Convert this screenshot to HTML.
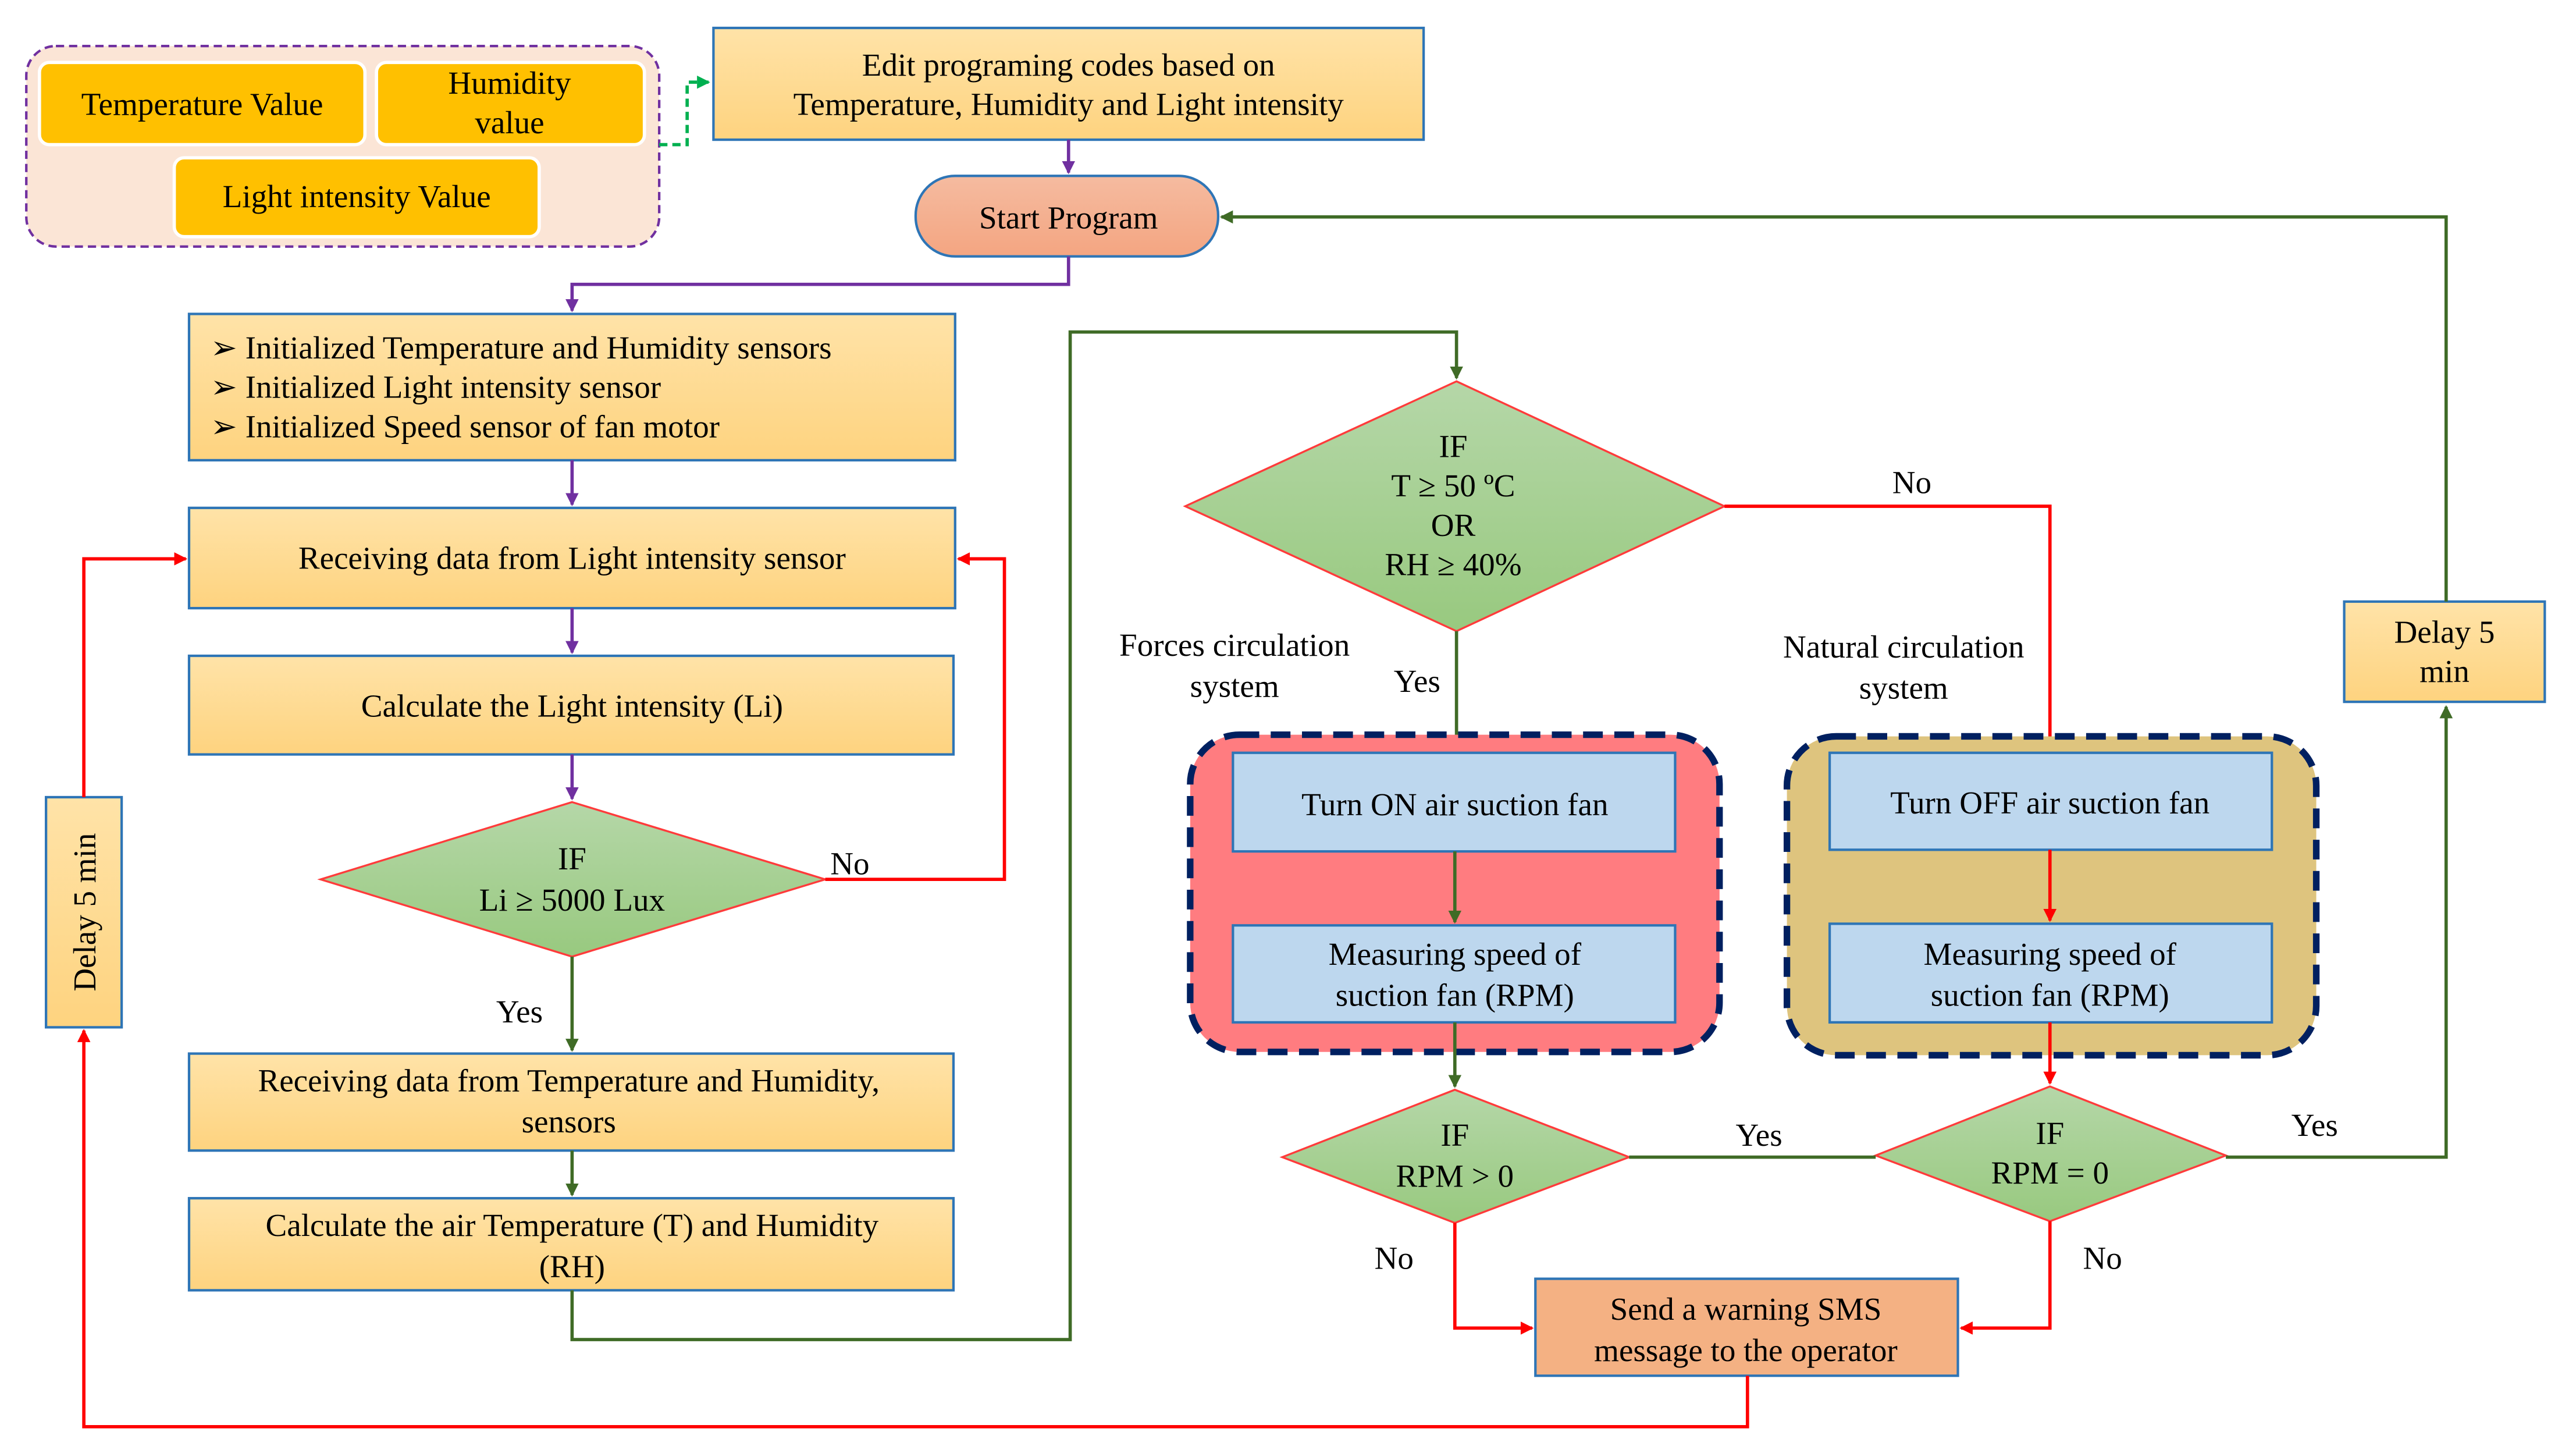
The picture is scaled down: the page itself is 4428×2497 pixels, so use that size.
<!DOCTYPE html>
<html><head><meta charset="utf-8"><style>html,body{margin:0;padding:0;background:#fff}svg{display:block}svg text{font-family:"Liberation Serif",serif}</style></head>
<body>
<svg width="4428" height="2497" viewBox="0 0 1567 884" preserveAspectRatio="none" xmlns="http://www.w3.org/2000/svg" font-family="Liberation Serif, serif" font-size="19.5" text-anchor="middle">
<defs>
<linearGradient id="yg" x1="0" y1="0" x2="0" y2="1"><stop offset="0" stop-color="#ffe3a8"/><stop offset="1" stop-color="#fed37f"/></linearGradient>
<linearGradient id="gg" x1="0" y1="0" x2="0" y2="1"><stop offset="0" stop-color="#b5d7a8"/><stop offset="1" stop-color="#98c97f"/></linearGradient>
<linearGradient id="og" x1="0" y1="0" x2="0" y2="1"><stop offset="0" stop-color="#f5bba0"/><stop offset="1" stop-color="#f4a581"/></linearGradient>
<marker id="ap" markerWidth="8" markerHeight="8" refX="7" refY="4" orient="auto" markerUnits="userSpaceOnUse"><path d="M0,0 L8,4 L0,8 Z" fill="#7030a0"/></marker>
<marker id="ag" markerWidth="8" markerHeight="8" refX="7" refY="4" orient="auto" markerUnits="userSpaceOnUse"><path d="M0,0 L8,4 L0,8 Z" fill="#3f6b26"/></marker>
<marker id="ar" markerWidth="8" markerHeight="8" refX="7" refY="4" orient="auto" markerUnits="userSpaceOnUse"><path d="M0,0 L8,4 L0,8 Z" fill="#ff0000"/></marker>
<marker id="al" markerWidth="8" markerHeight="8" refX="7" refY="4" orient="auto" markerUnits="userSpaceOnUse"><path d="M0,0 L8,4 L0,8 Z" fill="#00b050"/></marker>
</defs>

<rect x="16" y="28" width="385" height="122" rx="18" fill="#fbe5d6" stroke="#7030a0" stroke-width="1.5" stroke-dasharray="5,3"/>
<rect x="24" y="38" width="198" height="50" rx="6" fill="#ffc000" stroke="#fff" stroke-width="2"/>
<rect x="229" y="38" width="163" height="50" rx="6" fill="#ffc000" stroke="#fff" stroke-width="2"/>
<rect x="106" y="96" width="222" height="48" rx="6" fill="#ffc000" stroke="#fff" stroke-width="2"/>
<text x="123" y="70">Temperature Value</text>
<text x="310" y="57">Humidity</text><text x="310" y="81">value</text>
<text x="217" y="126">Light intensity Value</text>
<path d="M401,88 H418 V50 H431" fill="none" stroke="#00b050" stroke-width="2" stroke-dasharray="5,3" marker-end="url(#al)"/>

<rect x="434" y="17" width="432" height="68" fill="url(#yg)" stroke="#2e75b6" stroke-width="1.5"/>
<text x="650" y="46">Edit programing codes based on</text>
<text x="650" y="70">Temperature,  Humidity and Light intensity</text>
<path d="M650,85 V105" stroke="#7030a0" stroke-width="2" marker-end="url(#ap)"/>

<rect x="557" y="107" width="184" height="49" rx="24" fill="url(#og)" stroke="#2e75b6" stroke-width="1.5"/>
<text x="650" y="139">Start Program</text>
<path d="M650,156 V173 H348 V189" fill="none" stroke="#7030a0" stroke-width="2" marker-end="url(#ap)"/>

<rect x="115" y="191" width="466" height="89" fill="url(#yg)" stroke="#2e75b6" stroke-width="1.5"/>
<g text-anchor="start">
<text x="128" y="218">➢ Initialized Temperature and Humidity sensors</text>
<text x="128" y="242">➢ Initialized Light intensity sensor</text>
<text x="128" y="266">➢ Initialized Speed sensor of fan motor</text>
</g>
<path d="M348,280 V307" stroke="#7030a0" stroke-width="2" marker-end="url(#ap)"/>

<rect x="115" y="309" width="466" height="61" fill="url(#yg)" stroke="#2e75b6" stroke-width="1.5"/>
<text x="348" y="346">Receiving data from Light intensity sensor</text>
<path d="M348,370 V397" stroke="#7030a0" stroke-width="2" marker-end="url(#ap)"/>

<rect x="115" y="399" width="465" height="60" fill="url(#yg)" stroke="#2e75b6" stroke-width="1.5"/>
<text x="348" y="436">Calculate the Light intensity (Li)</text>
<path d="M348,459 V486" stroke="#7030a0" stroke-width="2" marker-end="url(#ap)"/>

<polygon points="348,488 502,535 348,582 195,535" fill="url(#gg)" stroke="#ff3b3b" stroke-width="1.2"/>
<text x="348" y="529">IF</text>
<text x="348" y="554">Li ≥ 5000 Lux</text>
<path d="M502,535 H611 V340 H583" fill="none" stroke="#ff0000" stroke-width="2" marker-end="url(#ar)"/>
<text x="517" y="532">No</text>
<path d="M348,582 V639" stroke="#3f6b26" stroke-width="2" marker-end="url(#ag)"/>
<text x="316" y="622">Yes</text>

<rect x="115" y="641" width="465" height="59" fill="url(#yg)" stroke="#2e75b6" stroke-width="1.5"/>
<text x="346" y="664">Receiving data from Temperature and  Humidity,</text>
<text x="346" y="689">sensors</text>
<path d="M348,700 V727" stroke="#3f6b26" stroke-width="2" marker-end="url(#ag)"/>

<rect x="115" y="729" width="465" height="56" fill="url(#yg)" stroke="#2e75b6" stroke-width="1.5"/>
<text x="348" y="752">Calculate the air Temperature (T) and Humidity</text>
<text x="348" y="777">(RH)</text>
<path d="M348,785 V815 H651 V202 H886 V230" fill="none" stroke="#3f6b26" stroke-width="2" marker-end="url(#ag)"/>

<polygon points="886,232 1049,308 886,384 721,308" fill="url(#gg)" stroke="#ff3b3b" stroke-width="1.2"/>
<text x="884" y="278">IF</text>
<text x="884" y="302">T ≥ 50 ºC</text>
<text x="884" y="326">OR</text>
<text x="884" y="350">RH ≥ 40%</text>
<path d="M1049,308 H1247 V456" fill="none" stroke="#ff0000" stroke-width="2" marker-end="url(#ar)"/>
<text x="1163" y="300">No</text>
<path d="M886,384 V456" stroke="#3f6b26" stroke-width="2" marker-end="url(#ag)"/>
<text x="862" y="421">Yes</text>
<text x="751" y="399">Forces circulation</text>
<text x="751" y="424">system</text>
<text x="1158" y="400">Natural circulation</text>
<text x="1158" y="425">system</text>

<rect x="724" y="447" width="322" height="193" rx="30" fill="#ff7c80" stroke="#002060" stroke-width="4" stroke-dasharray="12,7"/>
<rect x="1087" y="448" width="322" height="194" rx="30" fill="#dec47e" stroke="#002060" stroke-width="4" stroke-dasharray="12,7"/>

<rect x="750" y="458" width="269" height="60" fill="#bdd7ee" stroke="#2e75b6" stroke-width="1.5"/>
<text x="885" y="496">Turn ON air suction fan</text>
<path d="M885,518 V561" stroke="#3f6b26" stroke-width="2" marker-end="url(#ag)"/>
<rect x="750" y="563" width="269" height="59" fill="#bdd7ee" stroke="#2e75b6" stroke-width="1.5"/>
<text x="885" y="587">Measuring speed of</text>
<text x="885" y="612">suction fan (RPM)</text>
<path d="M885,622 V661" stroke="#3f6b26" stroke-width="2" marker-end="url(#ag)"/>

<rect x="1113" y="458" width="269" height="59" fill="#bdd7ee" stroke="#2e75b6" stroke-width="1.5"/>
<text x="1247" y="495">Turn OFF air suction fan</text>
<path d="M1247,517 V560" stroke="#ff0000" stroke-width="2" marker-end="url(#ar)"/>
<rect x="1113" y="562" width="269" height="60" fill="#bdd7ee" stroke="#2e75b6" stroke-width="1.5"/>
<text x="1247" y="587">Measuring speed of</text>
<text x="1247" y="612">suction fan (RPM)</text>
<path d="M1247,622 V659" stroke="#ff0000" stroke-width="2" marker-end="url(#ar)"/>

<polygon points="885,663 991,704 885,744 780,704" fill="url(#gg)" stroke="#ff3b3b" stroke-width="1.2"/>
<text x="885" y="697">IF</text>
<text x="885" y="722">RPM &gt; 0</text>
<polygon points="1247,661 1354,703 1247,743 1141,703" fill="url(#gg)" stroke="#ff3b3b" stroke-width="1.2"/>
<text x="1247" y="696">IF</text>
<text x="1247" y="720">RPM = 0</text>

<path d="M991,704 H1141" stroke="#3f6b26" stroke-width="2"/>
<text x="1070" y="697">Yes</text>
<path d="M1354,704 H1488 V430" fill="none" stroke="#3f6b26" stroke-width="2" marker-end="url(#ag)"/>
<text x="1408" y="691">Yes</text>

<rect x="1426" y="366" width="122" height="61" fill="url(#yg)" stroke="#2e75b6" stroke-width="1.5"/>
<text x="1487" y="391">Delay 5</text>
<text x="1487" y="415">min</text>
<path d="M1488,366 V132 H743" fill="none" stroke="#3f6b26" stroke-width="2" marker-end="url(#ag)"/>

<path d="M885,744 V808 H932" fill="none" stroke="#ff0000" stroke-width="2" marker-end="url(#ar)"/>
<text x="848" y="772">No</text>
<path d="M1247,743 V808 H1193" fill="none" stroke="#ff0000" stroke-width="2" marker-end="url(#ar)"/>
<text x="1279" y="772">No</text>

<rect x="934" y="778" width="257" height="59" fill="#f4b183" stroke="#2e75b6" stroke-width="1.5"/>
<text x="1062" y="803">Send a warning SMS</text>
<text x="1062" y="828">message to the operator</text>
<path d="M1063,837 V868 H51 V627" fill="none" stroke="#ff0000" stroke-width="2" marker-end="url(#ar)"/>

<rect x="28" y="485" width="46" height="140" fill="url(#yg)" stroke="#2e75b6" stroke-width="1.5"/>
<text x="0" y="0" transform="translate(58,555) rotate(-90)">Delay 5 min</text>
<path d="M51,485 V340 H113" fill="none" stroke="#ff0000" stroke-width="2" marker-end="url(#ar)"/>
</svg>
</body></html>
